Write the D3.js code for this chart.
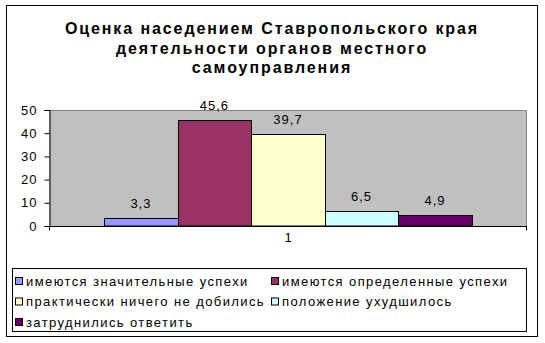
<!DOCTYPE html>
<html>
<head>
<meta charset="utf-8">
<script src="https://cdn.jsdelivr.net/npm/d3@7"></script>
<style>
  body { margin: 0; background: #fff; }
  svg { display: block; font-family: "Liberation Sans", Arial, sans-serif; }
</style>
</head>
<body>
<svg id="chart"></svg>
<script>
// chart data
var titleLines = ['Оценка наседением Ставропольского края', 'деятельности органов местного', 'самоуправления'];
var categories = ['1'];
var seriesNames = [
  'имеются значительные успехи',
  'имеются определенные успехи',
  'практически ничего не добились',
  'положение ухудшилось',
  'затруднились ответить'
];
var seriesValues = [3.3, 45.6, 39.7, 6.5, 4.9];
var seriesColors = ['#9999ff', '#993366', '#ffffcc', '#ccffff', '#660066'];
var yTicks = [0, 10, 20, 30, 40, 50];

var width = 545;
var height = 343;

var svg = d3.select('#chart')
  .attr('width', width)
  .attr('height', height);

// outer frame
svg.append('rect')
  .attr('x', 6.5).attr('y', 5.5)
  .attr('width', 531).attr('height', 331)
  .attr('fill', '#fff').attr('stroke', '#000');

// title
svg.append('g').selectAll('text')
  .data(titleLines)
  .enter().append('text')
    .attr('x', 272)
    .attr('y', function (d, i) { return 34 + i * 19.5; })
    .attr('text-anchor', 'middle')
    .attr('font-size', '16px')
    .attr('font-weight', 'bold')
    .attr('letter-spacing', '1.9px')
    .text(function (d) { return d; });

var plot = { left: 49, right: 527, top: 110, bottom: 226 };

var y = d3.scaleLinear()
  .domain([0, 50])
  .range([plot.bottom, plot.top]);

var x = d3.scaleBand()
  .domain(categories)
  .range([plot.left, plot.right]);

// excel style gap width of 150%
var barW = x.bandwidth() / (seriesNames.length + 1.5);
var xs = d3.scaleBand()
  .domain(seriesNames)
  .range([0, barW * seriesNames.length]);
var groupOffset = (x.bandwidth() - barW * seriesNames.length) / 2;

// plot background
svg.append('rect')
  .attr('x', plot.left).attr('y', plot.top + 0.5)
  .attr('width', plot.right - plot.left - 0.5)
  .attr('height', plot.bottom - plot.top - 0.5)
  .attr('fill', '#c0c0c0');
svg.append('path')
  .attr('d', 'M' + plot.left + ',' + (plot.top + 0.5) + 'H' + (plot.right - 0.5) + 'V' + plot.bottom)
  .attr('fill', 'none')
  .attr('stroke', '#808080');

// bars
var rows = seriesNames.map(function (name, i) {
  return { name: name, value: seriesValues[i], color: seriesColors[i], cat: categories[0] };
});

var bars = svg.append('g');
bars.selectAll('rect')
  .data(rows)
  .enter().append('rect')
    .attr('x', function (d) { return Math.round(x(d.cat) + groupOffset + xs(d.name)) + 0.5; })
    .attr('y', function (d) { return Math.round(y(d.value)) + 0.5; })
    .attr('width', function (d) {
      var a = Math.round(x(d.cat) + groupOffset + xs(d.name));
      var b = Math.round(x(d.cat) + groupOffset + xs(d.name) + xs.bandwidth());
      return b - a;
    })
    .attr('height', function (d) { return plot.bottom - Math.round(y(d.value)) - 0.5; })
    .attr('fill', function (d) { return d.color; })
    .attr('stroke', '#000');

// data labels
bars.selectAll('text')
  .data(rows)
  .enter().append('text')
    .attr('x', function (d) { return x(d.cat) + groupOffset + xs(d.name) + xs.bandwidth() / 2; })
    .attr('y', function (d) { return y(d.value) - 10; })
    .attr('text-anchor', 'middle')
    .attr('font-size', '13px')
    .attr('letter-spacing', '1px')
    .text(function (d) { return String(d.value).replace('.', ','); });

// y axis
var yAxis = d3.axisLeft(y)
  .tickValues(yTicks)
  .tickSize(5)
  .tickPadding(7)
  .tickFormat(d3.format('d'));

var gy = svg.append('g')
  .attr('transform', 'translate(' + (plot.left + 0.5) + ',0)')
  .call(yAxis);
gy.select('.domain').attr('stroke', '#000');
gy.selectAll('line').attr('stroke', '#000');
gy.selectAll('text')
  .attr('font-size', '13px')
  .attr('font-family', '"Liberation Sans", Arial, sans-serif')
  .attr('letter-spacing', '1px')
  .attr('fill', '#000');

// x axis
var gx = svg.append('g')
  .attr('transform', 'translate(0,' + (plot.bottom + 0.5) + ')');
gx.append('line')
  .attr('x1', plot.left).attr('x2', plot.right)
  .attr('stroke', '#000');
gx.selectAll('.tick')
  .data([plot.left + 0.5, plot.right - 0.5])
  .enter().append('line')
    .attr('x1', function (d) { return d; }).attr('x2', function (d) { return d; })
    .attr('y1', 0).attr('y2', 4)
    .attr('stroke', '#000');
gx.selectAll('text')
  .data(categories)
  .enter().append('text')
    .attr('x', function (d) { return x(d) + x.bandwidth() / 2; })
    .attr('y', 15)
    .attr('text-anchor', 'middle')
    .attr('font-size', '13px')
    .text(function (d) { return d; });

// legend
var legend = svg.append('g');
legend.append('rect')
  .attr('x', 12.5).attr('y', 268.5)
  .attr('width', 514).attr('height', 63)
  .attr('fill', '#fff').attr('stroke', '#000');

var colX = [15, 271];
var item = legend.selectAll('g.item')
  .data(rows)
  .enter().append('g')
    .attr('class', 'item')
    .attr('transform', function (d, i) {
      return 'translate(' + colX[i % 2] + ',' + (281 + Math.floor(i / 2) * 20.5) + ')';
    });
item.append('rect')
  .attr('x', 0.5).attr('y', -3.5)
  .attr('width', 7).attr('height', 7)
  .attr('fill', function (d) { return d.color; })
  .attr('stroke', '#000');
item.append('text')
  .attr('x', 11)
  .attr('y', 4.5)
  .attr('font-size', '13px')
  .attr('letter-spacing', '1.4px')
  .text(function (d) { return d.name; });
</script>
</body>
</html>
